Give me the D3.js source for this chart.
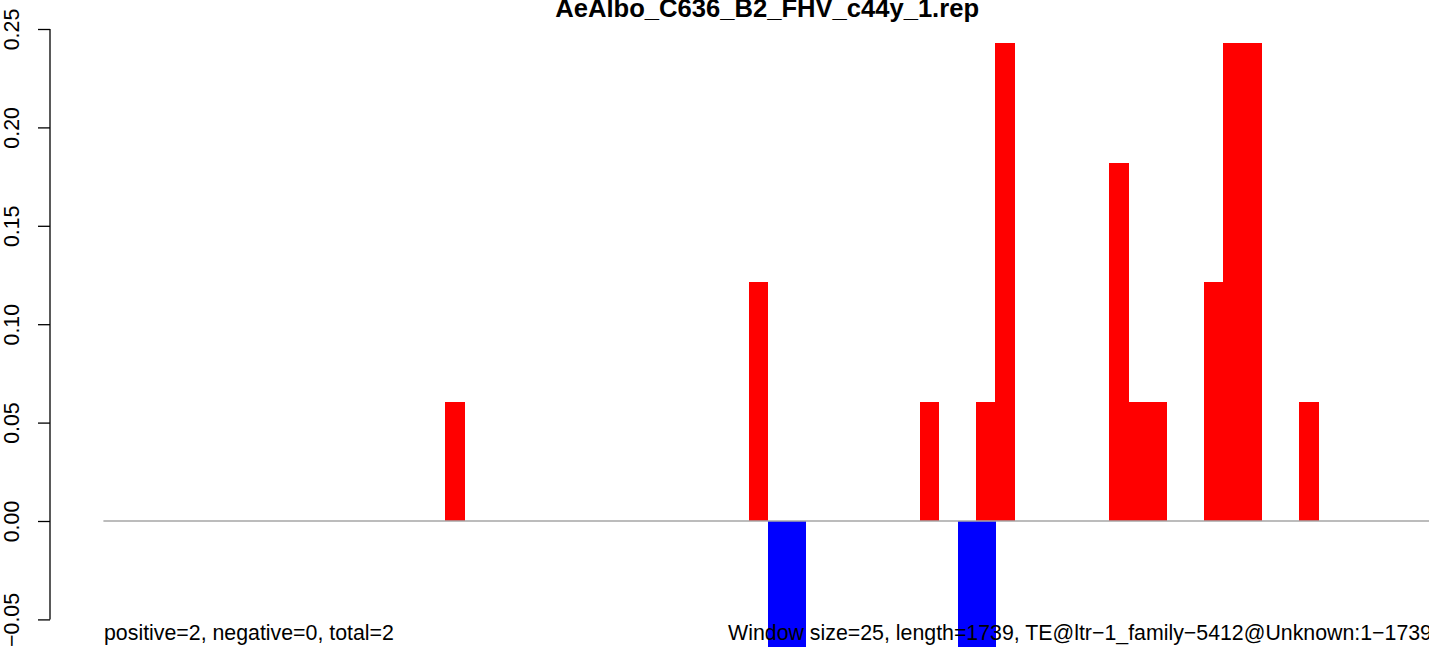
<!DOCTYPE html>
<html>
<head>
<meta charset="utf-8">
<script src="https://cdn.jsdelivr.net/npm/d3@7"></script>
<style>
  html, body { margin: 0; padding: 0; background: #fff; overflow: hidden; }
  svg { display: block; font-family: "Liberation Sans", Arial, Helvetica, sans-serif; }
</style>
</head>
<body>
<script>
// ---- data ----
const title = "AeAlbo_C636_B2_FHV_c44y_1.rep";
const windowSize = 25;
const binCount = 70;
// bin index (window number) and value for the positive (red) strand
const posBins   = [18, 34, 43, 46, 47, 53, 54, 55, 58, 59, 60, 63];
const posValues = [0.0607, 0.1214, 0.0607, 0.0607, 0.2428, 0.1821, 0.0607, 0.0607, 0.1214, 0.2428, 0.2428, 0.0607];
// bin index and value for the negative (blue) strand
const negBins   = [35, 36, 45, 46];
const negValues = [-0.0667, -0.0667, -0.0667, -0.0667];
const yTicks = [-0.05, 0.00, 0.05, 0.10, 0.15, 0.20, 0.25];
const leftNote = "positive=2, negative=0, total=2";
const rightNote = "Window size=25, length=1739, TE@ltr\u22121_family\u22125412@Unknown:1\u22121739";

// ---- layout ----
const W = 1429, H = 647;
const FS = 21.33;
const svg = d3.select("body").append("svg").attr("width", W).attr("height", H);

const x = d3.scaleLinear().domain([0, binCount * windowSize]).range([103.4, 103.4 + binCount * 18.98]);
const y = d3.scaleLinear().domain([-0.05, 0.25]).range([619.4, 29]);

const toRows = (bins, vals) => bins.map((b, i) => ({ start: b * windowSize, v: vals[i] }));

// negative bars
svg.append("g").attr("shape-rendering", "crispEdges")
  .selectAll("rect").data(toRows(negBins, negValues)).join("rect")
  .attr("x", d => x(d.start))
  .attr("width", d => x(d.start + windowSize) - x(d.start) + 0.5)
  .attr("y", y(0))
  .attr("height", d => y(d.v) - y(0))
  .attr("fill", "#0000ff");

// positive bars
svg.append("g").attr("shape-rendering", "crispEdges")
  .selectAll("rect").data(toRows(posBins, posValues)).join("rect")
  .attr("x", d => x(d.start))
  .attr("width", d => x(d.start + windowSize) - x(d.start) + 0.5)
  .attr("y", d => y(d.v))
  .attr("height", d => y(0) - y(d.v))
  .attr("fill", "#ff0000");

// baseline
svg.append("line")
  .attr("x1", x(0)).attr("x2", x(binCount * windowSize))
  .attr("y1", y(0)).attr("y2", y(0))
  .attr("stroke", "#a6a6a6").attr("stroke-width", 1.5);

// y axis
const yAxis = d3.axisLeft(y).tickValues(yTicks).tickFormat(d3.format(".2f")).tickSize(12).tickPadding(0);
const ga = svg.append("g").attr("transform", "translate(50,0)").call(yAxis);
ga.select(".domain").attr("stroke", "#000").attr("stroke-width", 1.3)
  .attr("d", `M0,${y(-0.05)}V${y(0.25)}`);
ga.selectAll(".tick line").attr("stroke", "#000").attr("stroke-width", 1.3);
ga.selectAll(".tick text")
  .text(d => d3.format(".2f")(d).replace("-", "\u2212"))
  .attr("font-size", FS)
  .attr("font-family", "Liberation Sans, Arial, sans-serif")
  .attr("fill", "#000")
  .attr("x", null).attr("dy", null)
  .attr("text-anchor", "middle")
  .attr("transform", "translate(-31,0) rotate(-90)");

// title
svg.append("text")
  .attr("x", (x(0) + 1429) / 2 + 1).attr("y", 17)
  .attr("text-anchor", "middle")
  .attr("font-weight", "bold").attr("font-size", FS * 1.2)
  .text(title);

// notes
svg.append("text").attr("x", 104).attr("y", 640).attr("font-size", FS).text(leftNote);
svg.append("text").attr("x", x(binCount * windowSize)).attr("y", 640)
  .attr("text-anchor", "end").attr("font-size", FS).text(rightNote);
</script>
</body>
</html>
